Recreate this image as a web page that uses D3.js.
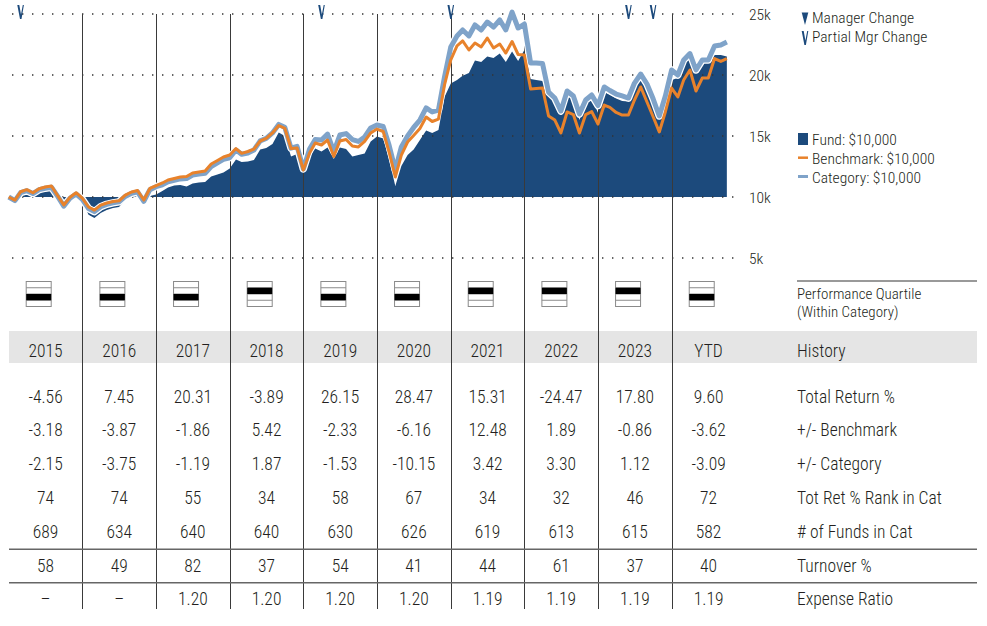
<!DOCTYPE html>
<html><head><meta charset="utf-8">
<script src="https://cdn.jsdelivr.net/npm/d3@7"></script>
<style>
body{margin:0;background:#fff}
svg text{font-family:"Liberation Sans Narrow","Arial Narrow","Roboto Condensed","DejaVu Sans Condensed",sans-serif;font-weight:300;fill:#231f20}
</style></head><body><svg id="c" width="987" height="626"></svg>
<script>
// Monthly growth of $10,000 (in thousands), Dec 2014 .. Sep 2024
const fund = [10.0,
 9.8,10.25,10.45,10.2,10.45,10.55,10.6,9.95,9.25,9.85,10.15,9.6,
 8.55,8.28,8.69,8.93,9.1,9.18,9.75,10.0,10.08,9.59,10.08,10.2,
 10.49,10.78,10.94,10.98,10.86,11.1,11.19,11.23,11.68,11.84,12.0,12.34,
 13.07,12.87,12.91,13.03,13.89,14.02,14.34,15.29,15.0,13.32,13.52,11.93,
 13.24,13.98,13.73,14.06,13.11,14.06,13.93,13.32,13.44,13.57,14.55,14.96,
 14.8,13.1,10.9,12.54,13.44,13.89,14.67,15.45,15.25,15.49,18.2,19.3,
 19.6,19.94,20.16,21.19,21.07,21.52,21.39,21.76,21.07,21.93,21.15,22.05,
 19.67,19.59,19.5,18.6,17.95,17.3,18.36,17.95,16.31,17.79,18.1,16.9,
 18.6,18.36,18.07,17.87,17.83,19.02,19.59,18.73,17.79,16.84,18.2,19.6,
 19.75,20.94,21.48,20.25,20.82,21.27,21.64,21.64,21.52];
const benchmark = [10.0,
 9.75,10.43,10.6,10.35,10.68,10.82,10.9,10.1,9.35,9.98,10.35,9.9,
 9.18,8.93,9.34,9.51,9.63,9.69,10.16,10.41,10.53,9.75,10.7,10.94,
 11.15,11.39,11.52,11.64,11.68,11.97,12.05,12.13,12.7,12.99,13.28,13.44,
 13.97,13.58,13.73,13.93,14.59,14.8,15.25,15.86,15.63,13.97,14.02,12.21,
 13.61,14.43,14.26,14.67,13.32,14.59,14.71,14.18,14.1,14.55,15.25,15.57,
 15.37,13.69,11.64,13.44,14.51,15.04,15.61,16.56,16.19,16.39,19.18,21.23,
 22.38,22.79,22.05,22.62,22.3,23.03,22.21,22.54,21.8,22.75,21.68,21.64,
 18.85,18.89,18.93,16.64,16.31,15.25,16.97,16.76,15.25,16.76,17.0,15.98,
 17.54,17.34,16.93,16.72,16.72,17.95,19.02,17.79,16.6,15.33,16.97,18.93,
 18.2,19.59,20.41,18.69,19.75,19.75,21.35,21.11,21.35];
const category = [10.0,
 9.7,10.35,10.52,10.28,10.6,10.72,10.8,10.05,9.25,9.9,10.25,9.8,
 9.05,8.8,9.2,9.4,9.52,9.6,10.05,10.3,10.42,9.65,10.6,10.85,
 11.0,11.24,11.36,11.48,11.52,11.8,11.88,11.95,12.5,12.8,13.08,13.22,
 13.85,13.5,13.6,13.85,14.6,14.8,15.25,15.95,15.72,14.0,14.15,12.3,
 13.93,14.71,14.67,15.16,13.73,15.08,15.2,14.71,14.55,14.92,15.66,15.9,
 15.78,14.26,12.21,14.1,15.0,15.7,16.31,17.3,16.97,17.13,19.84,22.3,
 23.2,23.69,23.2,24.1,23.69,24.34,23.93,24.51,23.69,25.16,23.85,24.18,
 20.98,20.98,20.94,18.6,18.11,17.05,18.69,18.28,16.8,17.95,18.36,17.5,
 19.02,18.73,18.44,18.28,18.11,19.34,20.08,19.26,18.07,16.64,18.28,20.41,
 20.0,21.23,21.76,20.41,21.23,21.23,22.38,22.46,22.7];
const startMonth = [2014, 11]; // Dec 2014 (month-end), monthly after that
const partialMgrChange = ["2015-02","2019-03","2020-12","2023-05","2023-09"];
const yTicks = [5,10,15,20,25];
const yTickLabels = ["5k","10k","15k","20k","25k"];

const years = ["2015","2016","2017","2018","2019","2020","2021","2022","2023","YTD"];
const quartile = [3,3,3,2,3,3,2,2,2,3];
const totalReturn = ["-4.56","7.45","20.31","-3.89","26.15","28.47","15.31","-24.47","17.80","9.60"];
const plusBench = ["-3.18","-3.87","-1.86","5.42","-2.33","-6.16","12.48","1.89","-0.86","-3.62"];
const plusCat = ["-2.15","-3.75","-1.19","1.87","-1.53","-10.15","3.42","3.30","1.12","-3.09"];
const rankInCat = ["74","74","55","34","58","67","34","32","46","72"];
const fundsInCat = ["689","634","640","640","630","626","619","613","615","582"];
const turnover = ["58","49","82","37","54","41","44","61","37","40"];
const expenseRatio = ["–","–","1.20","1.20","1.20","1.20","1.19","1.19","1.19","1.19"];
const rowLabels = ["Total Return %","+/- Benchmark","+/- Category","Tot Ret % Rank in Cat","# of Funds in Cat","Turnover %","Expense Ratio"];

const C_FUND="#1c4a7c", C_BENCH="#e8822b", C_CAT="#7fa3c9";
const svg=d3.select("#c");
const monthEnd = i => new Date(startMonth[0], startMonth[1]+1+i, 0);
const x=d3.scaleTime().domain([new Date(2014,11,31),new Date(2024,11,31)]).range([8.7,745.4]);
const y=d3.scaleLinear().domain([5,25]).range([258,14]);
const band=d3.scaleBand().domain(years).range([8.7,745.4]);

// History band
svg.append("rect").attr("x",9).attr("y",331).attr("width",968).attr("height",32).attr("fill","#e5e5e5");

// area
const pts = v => v.map((d,i)=>({t:monthEnd(i),v:d}));
svg.append("path").datum(pts(fund))
  .attr("d",d3.area().x(d=>x(d.t)).y0(y(10)).y1(d=>y(d.v)))
  .attr("fill",C_FUND);

// gridlines
svg.append("g").selectAll("line").data(yTicks).join("line")
  .attr("x1",12).attr("x2",742).attr("y1",d=>y(d)).attr("y2",d=>y(d))
  .attr("stroke","#333").attr("stroke-width",1.4).attr("stroke-dasharray","1.4 8.6");
svg.append("g").selectAll("text").data(yTicks).join("text")
  .attr("x",749).attr("y",d=>y(d)+5.5).attr("font-size",15.5).text((d,i)=>yTickLabels[i]);

// vertical year separators
svg.append("g").selectAll("line").data(years.slice(1)).join("line")
  .attr("x1",d=>Math.round(band(d))+0.5).attr("x2",d=>Math.round(band(d))+0.5)
  .attr("y1",14).attr("y2",609).attr("stroke","#3a3a3a").attr("stroke-width",1);

// lines
const line=d3.line().x(d=>x(d.t)).y(d=>y(d.v));
svg.append("path").datum(pts(category)).attr("d",line).attr("fill","none")
  .attr("stroke","#fff").attr("stroke-width",7.5).attr("stroke-linejoin","round");
svg.append("path").datum(pts(category)).attr("d",line).attr("fill","none")
  .attr("stroke",C_CAT).attr("stroke-width",5).attr("stroke-linejoin","round");
svg.append("path").datum(pts(benchmark)).attr("d",line).attr("fill","none")
  .attr("stroke",C_BENCH).attr("stroke-width",3).attr("stroke-linejoin","round");

// partial manager change markers
const vPath="M-3.3,0 L-1.3,0 L0.4,9.5 L2.2,0 L3.3,0 L0.9,14 L-0.6,14 Z";
const parse=d3.timeParse("%Y-%m");
svg.append("g").selectAll("path").data(partialMgrChange).join("path")
  .attr("transform",d=>{const p=parse(d);return `translate(${x(new Date(p.getFullYear(),p.getMonth()+1,0))},5)`;})
  .attr("d",vPath).attr("fill",C_FUND);

// legend
svg.append("path").attr("d","M801.7,12.5 L808.3,12.5 L805,25 Z").attr("fill",C_FUND);
svg.append("path").attr("transform","translate(805,31)").attr("d",vPath).attr("fill",C_FUND);
svg.append("text").attr("x",812).attr("y",23.3).attr("font-size",15.5).text("Manager Change");
svg.append("text").attr("x",812).attr("y",42).attr("font-size",15.5).text("Partial Mgr Change");
svg.append("rect").attr("x",798).attr("y",133).attr("width",10).attr("height",12).attr("fill",C_FUND);
svg.append("line").attr("x1",798).attr("x2",808).attr("y1",157.7).attr("y2",157.7).attr("stroke",C_BENCH).attr("stroke-width",2.5);
svg.append("line").attr("x1",798).attr("x2",808).attr("y1",176.5).attr("y2",176.5).attr("stroke",C_CAT).attr("stroke-width",3);
svg.append("text").attr("x",812).attr("y",145).attr("font-size",15.5).text("Fund: $10,000");
svg.append("text").attr("x",812).attr("y",164).attr("font-size",15.5).text("Benchmark: $10,000");
svg.append("text").attr("x",812).attr("y",183).attr("font-size",15.5).text("Category: $10,000");

// quartile boxes
const qg=svg.append("g").selectAll("g").data(years).join("g")
  .attr("transform",d=>`translate(${band(d)+17},281)`);
qg.append("rect").attr("x",0.5).attr("y",0.5).attr("width",25).attr("height",25).attr("fill","#fff").attr("stroke","#8a8a8a");
qg.each(function(d,i){
  const g=d3.select(this);
  [1,2,3].forEach(k=>g.append("line").attr("x1",0.5).attr("x2",25.5).attr("y1",0.5+k*6.25).attr("y2",0.5+k*6.25).attr("stroke","#8a8a8a"));
  g.append("rect").attr("x",0.5).attr("y",0.5+(quartile[i]-1)*6.25).attr("width",25).attr("height",6.25).attr("fill","#000");
});
svg.append("line").attr("x1",797).attr("x2",977).attr("y1",281).attr("y2",281).attr("stroke","#777").attr("stroke-width",1.5);
svg.append("text").attr("x",797).attr("y",298.5).attr("font-size",15).text("Performance Quartile");
svg.append("text").attr("x",797).attr("y",317).attr("font-size",15).text("(Within Category)");

// year row
svg.append("g").selectAll("text").data(years).join("text")
  .attr("x",d=>band(d)+band.bandwidth()/2).attr("y",356.7).attr("text-anchor","middle").attr("font-size",17.5).text(d=>d);
svg.append("text").attr("x",797).attr("y",356.7).attr("font-size",17.5).text("History");

// data rows
const rows=[totalReturn,plusBench,plusCat,rankInCat,fundsInCat,turnover,expenseRatio];
const rowY=[402.7,436,470,504,537.5,571.7,605];
rows.forEach((r,ri)=>{
  svg.append("g").selectAll("text").data(r).join("text")
    .attr("x",(d,i)=>band(years[i])+band.bandwidth()/2).attr("y",rowY[ri])
    .attr("text-anchor","middle").attr("font-size",17.5).text(d=>d);
  svg.append("text").attr("x",797).attr("y",rowY[ri]).attr("font-size",17.5).text(rowLabels[ri]);
});
[549.3,582.7].forEach(yy=>svg.append("line").attr("x1",9).attr("x2",977).attr("y1",yy).attr("y2",yy).attr("stroke","#666").attr("stroke-width",1.5));
</script></body></html>
